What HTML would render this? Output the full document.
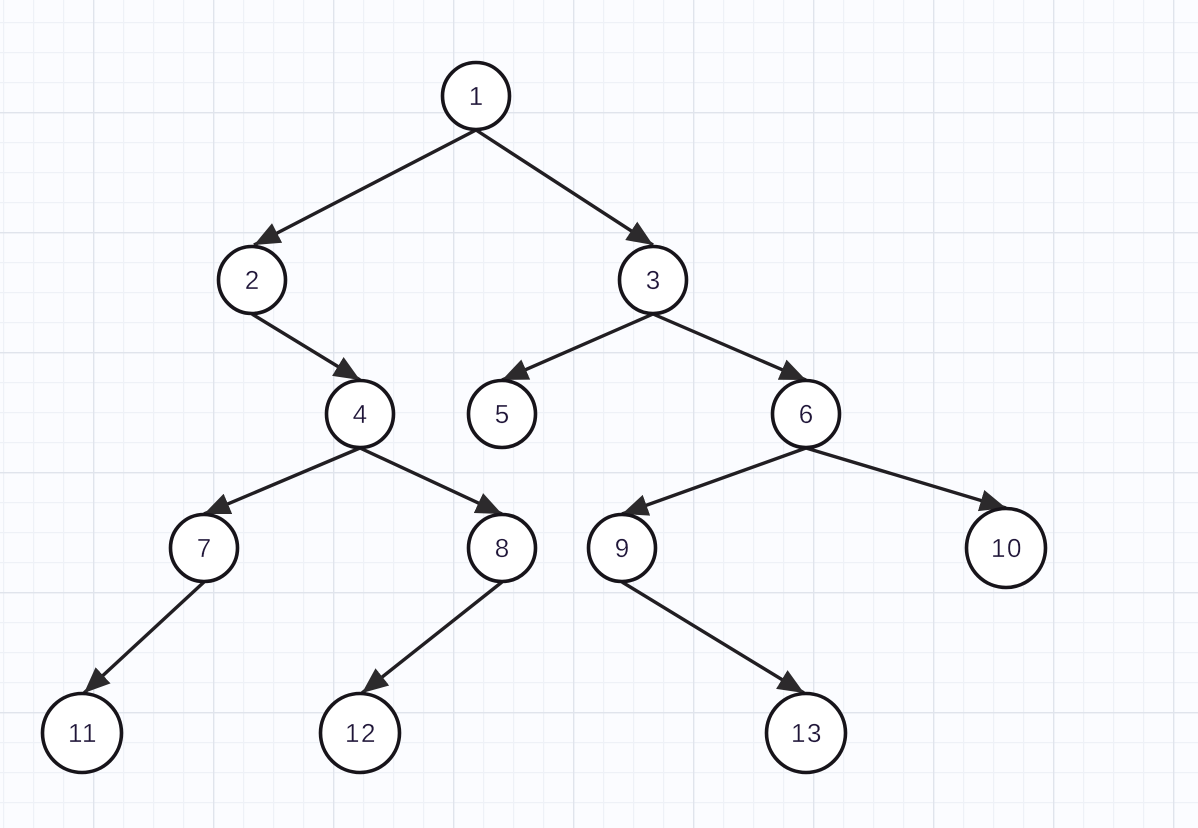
<!DOCTYPE html>
<html>
<head>
<meta charset="utf-8">
<style>
html,body{margin:0;padding:0;width:1198px;height:828px;overflow:hidden;background:#fbfcff}
svg{display:block;position:absolute;left:0;top:0}
text{font-family:"Liberation Sans",sans-serif;font-size:26px;fill:#1f1538;stroke:#fff;stroke-width:.3;text-anchor:middle;dominant-baseline:central}
.w{letter-spacing:1.5px}
circle{fill:#fff;stroke:#17141a;stroke-width:3.6}
.e{stroke:#211e22;stroke-width:3.4;fill:none}
.h{fill:#2c2a2c}
</style>
</head>
<body>
<svg width="1198" height="828" viewBox="0 0 1198 828" xmlns="http://www.w3.org/2000/svg">
<defs>
<pattern id="minor" x="3" y="22" width="30" height="30" patternUnits="userSpaceOnUse">
<path d="M0.5 0V30M0 0.5H30" stroke="#eef1f7" stroke-width="1.5" fill="none"/>
</pattern>
<pattern id="major" x="93" y="112" width="120" height="120" patternUnits="userSpaceOnUse">
<path d="M0.5 0V120M0 0.5H120" stroke="#e0e4ec" stroke-width="1.7" fill="none"/>
</pattern>
<marker id="a" markerUnits="userSpaceOnUse" markerWidth="30" markerHeight="26" refX="26" refY="13" orient="auto">
<path class="h" d="M0 2L26 13L0 24Z"/>
</marker>
</defs>
<rect width="1198" height="828" fill="#fbfcff"/>
<rect width="1198" height="828" fill="url(#minor)"/>
<rect width="1198" height="828" fill="url(#major)"/>

<path class="e" marker-end="url(#a)" d="M476 130L254 245"/>
<path class="e" marker-end="url(#a)" d="M476 130L653 245"/>
<path class="e" marker-end="url(#a)" d="M252 314L360 380"/>
<path class="e" marker-end="url(#a)" d="M653 314L502 380"/>
<path class="e" marker-end="url(#a)" d="M653 314L806 380"/>
<path class="e" marker-end="url(#a)" d="M360 448L204 514"/>
<path class="e" marker-end="url(#a)" d="M360 448L502 514"/>
<path class="e" marker-end="url(#a)" d="M806 448L622 514"/>
<path class="e" marker-end="url(#a)" d="M806 448L1006 508"/>
<path class="e" marker-end="url(#a)" d="M204 582L84 693"/>
<path class="e" marker-end="url(#a)" d="M502 582L362 693"/>
<path class="e" marker-end="url(#a)" d="M622 582L804 693"/>

<circle cx="476" cy="96" r="33.5"/><text x="476" y="96">1</text>
<circle cx="252" cy="280" r="33.5"/><text x="252" y="280">2</text>
<circle cx="653" cy="280" r="33.5"/><text x="653" y="280">3</text>
<circle cx="360" cy="414" r="33.5"/><text x="360" y="414">4</text>
<circle cx="502" cy="414" r="33.5"/><text x="502" y="414">5</text>
<circle cx="806" cy="414" r="33.5"/><text x="806" y="414">6</text>
<circle cx="204" cy="548" r="33.5"/><text x="204" y="548">7</text>
<circle cx="502" cy="548" r="33.5"/><text x="502" y="548">8</text>
<circle cx="622" cy="548" r="33.5"/><text x="622" y="548">9</text>
<circle cx="1006" cy="548" r="39.5"/><text class="w" x="1007" y="548">10</text>
<circle cx="82" cy="733" r="39.5"/><text class="w" x="83" y="733">11</text>
<circle cx="360" cy="733" r="39.5"/><text class="w" x="361" y="733">12</text>
<circle cx="806" cy="733" r="39.5"/><text class="w" x="807" y="733">13</text>
</svg>
</body>
</html>
